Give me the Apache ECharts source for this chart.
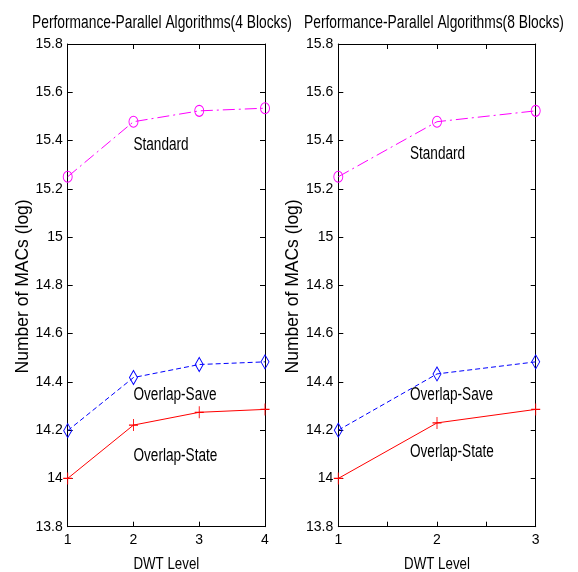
<!DOCTYPE html>
<html>
<head>
<meta charset="utf-8">
<script src="https://cdn.jsdelivr.net/npm/echarts@6/dist/echarts.min.js"></script>
<style>html,body{margin:0;padding:0;background:#fff;}#c{width:578px;height:572px;}</style>
</head>
<body>
<div id="c"></div>
<script>
// ---- data ----
var titles = ['Performance-Parallel Algorithms(4 Blocks)', 'Performance-Parallel Algorithms(8 Blocks)'];
var xName = 'DWT Level';
var yName = 'Number of MACs (log)';
var levels4 = [1, 2, 3, 4];
var standard4 = [15.25, 15.478, 15.523, 15.534];
var overlapSave4 = [14.198, 14.418, 14.472, 14.483];
var overlapState4 = [14.0, 14.221, 14.274, 14.286];
var levels8 = [1, 2, 3];
var standard8 = [15.25, 15.478, 15.523];
var overlapSave8 = [14.2, 14.433, 14.483];
var overlapState8 = [14.0, 14.23, 14.286];
var seriesNames = ['Standard', 'Overlap-Save', 'Overlap-State'];
// annotation anchors [x, y] (left edge, vertical middle of text)
var notes4 = [[2, 15.379], [2, 14.344], [2, 14.091]];
var notes8 = [[1.726, 15.345], [1.726, 14.344], [1.726, 14.108]];
var yMin = 13.8, yMax = 15.8, yStep = 0.2;

var regular = "'Liberation Sans', Arial, sans-serif";
var colors = ['#ff00ff', '#0000ff', '#ff0000'];
var symbols = ['circle', 'diamond', 'path://M0,6L10,6M5,0L5,12'];
var symSizes = [[9, 11], [8, 14], [9, 12]];
var lineTypes = [[12, 4, 2, 4], [5, 3], 'solid'];

function pairs(xs, ys) { return xs.map(function (x, i) { return [x, ys[i]]; }); }

var axisLineStyle = { show: true, lineStyle: { color: '#000', width: 1 } };
var tickStyle = { show: true, inside: true, length: 5, lineStyle: { color: '#000' } };

function xAxes(gi, max, interval) {
  return [{
    type: 'value', gridIndex: gi, min: 1, max: max, interval: interval, position: 'bottom',
    axisLine: axisLineStyle, axisTick: tickStyle, splitLine: { show: false },
    axisLabel: { fontFamily: regular, fontSize: 14, color: '#000', margin: 6,
      formatter: function (v) { return Math.abs(v - Math.round(v)) < 1e-6 ? String(Math.round(v)) : ''; } }
  }, {
    type: 'value', gridIndex: gi, min: 1, max: max, interval: interval, position: 'top',
    axisLine: axisLineStyle, axisTick: tickStyle, splitLine: { show: false }, axisLabel: { show: false }
  }];
}
function yAxes(gi) {
  return [{
    type: 'value', gridIndex: gi, min: yMin, max: yMax, interval: yStep, position: 'left',
    axisLine: axisLineStyle, axisTick: tickStyle, splitLine: { show: false },
    axisLabel: { fontFamily: regular, fontSize: 14, color: '#000', margin: 5 }
  }, {
    type: 'value', gridIndex: gi, min: yMin, max: yMax, interval: yStep, position: 'right',
    axisLine: axisLineStyle, axisTick: tickStyle, splitLine: { show: false }, axisLabel: { show: false }
  }];
}

function lineSeries(name, idx, xi, yi, data) {
  return {
    type: 'line', name: name, xAxisIndex: xi, yAxisIndex: yi, data: data,
    symbol: symbols[idx], symbolSize: symSizes[idx], showAllSymbol: true, clip: false,
    lineStyle: { color: colors[idx], width: 1, type: lineTypes[idx] },
    itemStyle: { color: 'none', borderColor: colors[idx], borderWidth: 1 },
    animation: false, z: 3
  };
}

var option = {
  backgroundColor: '#fff',
  animation: false,
  grid: [
    { left: 67.7, right: 313, top: 44, bottom: 45.3 },
    { left: 338.3, right: 42.3, top: 44, bottom: 45.3 }
  ],
  xAxis: xAxes(0, 4, 1).concat(xAxes(1, 3, 0.5)),
  yAxis: yAxes(0).concat(yAxes(1)),
  series: [
    lineSeries(seriesNames[0], 0, 0, 0, pairs(levels4, standard4)),
    lineSeries(seriesNames[1], 1, 0, 0, pairs(levels4, overlapSave4)),
    lineSeries(seriesNames[2], 2, 0, 0, pairs(levels4, overlapState4)),
    lineSeries(seriesNames[0], 0, 2, 2, pairs(levels8, standard8)),
    lineSeries(seriesNames[1], 1, 2, 2, pairs(levels8, overlapSave8)),
    lineSeries(seriesNames[2], 2, 2, 2, pairs(levels8, overlapState8))
  ]
};
var chart = echarts.init(document.getElementById('c'), null, { renderer: 'canvas' });
chart.setOption(option);

// ---- text (titles, axis names, annotations) as condensed, tall text ----
function txt(text, x, y, size, align, sy, rot) {
  return {
    type: 'text', x: x, y: y, scaleX: 1, scaleY: sy, rotation: rot || 0, silent: true, z: 10,
    style: { text: text, font: size + 'px ' + regular, fill: '#000',
      textAlign: align, textVerticalAlign: 'middle', align: align, verticalAlign: 'middle' }
  };
}
var g = [];
g.push(txt(titles[0], 32, 23, 13.8, 'left', 1.28));
g.push(txt(titles[1], 304, 23, 13.8, 'left', 1.28));
[[0, 0, 4, notes4], [2, 2, 3, notes8]].forEach(function (p, k) {
  var xi = p[0], yi = p[1];
  var cx = chart.convertToPixel({ xAxisIndex: xi }, (1 + p[2]) / 2);
  var cy = chart.convertToPixel({ yAxisIndex: yi }, (yMin + yMax) / 2);
  var x0 = chart.convertToPixel({ xAxisIndex: xi }, 1);
  var yb = chart.convertToPixel({ yAxisIndex: yi }, yMin);
  g.push(txt(xName, cx, yb + 37.5, 13.3, 'center', 1.3));
  var nameG = g.length;
  g.push({
    type: 'text', x: x0 - 45, y: cy + 1, rotation: Math.PI / 2, silent: true, z: 10,
    style: { text: yName, font: '17.5px ' + regular, fill: '#000',
      textAlign: 'center', textVerticalAlign: 'middle', align: 'center', verticalAlign: 'middle' }
  });
  p[3].forEach(function (pt, i) {
    var px = chart.convertToPixel({ xAxisIndex: xi, yAxisIndex: yi }, pt);
    g.push(txt(seriesNames[i], px[0], px[1], 13.6, 'left', 1.3));
  });
});
chart.setOption({ graphic: g });
</script>
</body>
</html>
